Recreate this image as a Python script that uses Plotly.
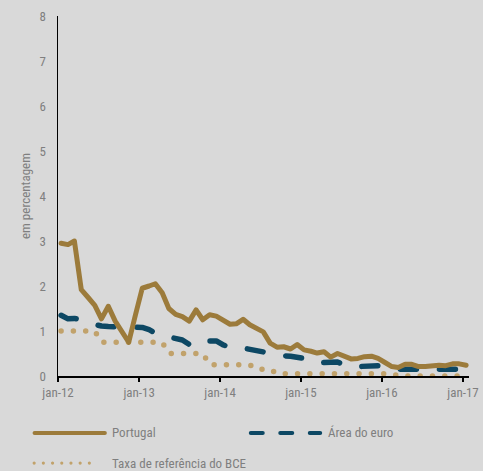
import plotly.graph_objects as go
import pandas as pd

# Monthly observations, jan-12 .. jan-17 (plotted mid-month)
months = pd.date_range("2012-01-01", periods=61, freq="MS") + pd.Timedelta(days=14)

portugal = [2.95, 2.92, 3.00, 1.92, 1.75, 1.57, 1.27, 1.55, 1.22, 1.00, 0.75, 1.35,
            1.95, 2.00, 2.05, 1.85, 1.50, 1.37, 1.32, 1.22, 1.47, 1.25, 1.36, 1.33,
            1.25, 1.15, 1.16, 1.26, 1.14, 1.07, 0.98, 0.73, 0.64, 0.65, 0.60, 0.70,
            0.58, 0.55, 0.51, 0.54, 0.42, 0.50, 0.43, 0.38, 0.39, 0.43, 0.44, 0.39,
            0.30, 0.21, 0.19, 0.26, 0.26, 0.21, 0.21, 0.23, 0.24, 0.23, 0.27, 0.27, 0.24]

area_euro = [1.35, 1.27, 1.28, 1.25, 1.18, 1.13, 1.11, 1.10, 1.10, 1.10, 1.10, 1.10,
             1.08, 1.03, 0.95, 0.90, 0.86, 0.84, 0.80, 0.70, 0.80, 0.78, 0.78, 0.78,
             0.69, 0.64, 0.65, 0.62, 0.60, 0.58, 0.53, 0.49, 0.47, 0.45, 0.44, 0.43,
             0.39, 0.33, 0.29, 0.30, 0.31, 0.31, 0.25, 0.20, 0.21, 0.22, 0.22, 0.23,
             0.22, 0.18, 0.15, 0.15, 0.15, 0.15, 0.14, 0.13, 0.12, 0.12, 0.12, 0.12, 0.15]

taxa_bce = [1.00] * 6 + [0.75] * 10 + [0.50] * 6 + [0.25] * 7 + [0.15] * 3 + [0.05] * 18 + [0.00] * 11

tick_dates = ["2012-01-01", "2013-01-01", "2014-01-01", "2015-01-01", "2016-01-01", "2017-01-01"]
tick_labels = ["jan-12", "jan-13", "jan-14", "jan-15", "jan-16", "jan-17"]
y_ticks = [0, 1, 2, 3, 4, 5, 6, 7, 8]

series_names = ["Portugal", "Área do euro", "Taxa de referência do BCE"]

C_PT = "#9c7b3b"
C_EA = "#0d4864"
C_BCE = "#c1a26b"
GREY = "#7f7f7f"
BG = "#d9d9d9"
FONT = "Liberation Sans Narrow, Arial Narrow, Roboto Condensed, Liberation Sans, sans-serif"

fig = go.Figure()
fig.add_trace(go.Scatter(x=months, y=taxa_bce, mode="lines", name=series_names[2],
                         line=dict(color=C_BCE, width=5.5, dash="0px,12.3px"),
                         showlegend=False, hoverinfo="skip"))
fig.add_trace(go.Scatter(x=months, y=area_euro, mode="lines", name=series_names[1],
                         line=dict(color=C_EA, width=5.5, dash="16px,23px"),
                         showlegend=False, hoverinfo="skip"))
fig.add_trace(go.Scatter(x=months, y=portugal, mode="lines", name=series_names[0],
                         line=dict(color=C_PT, width=5),
                         showlegend=False, hoverinfo="skip"))

# Manual legend (paper coordinates)
leg = [
    (series_names[0], C_PT, None, -0.057, 0.114, -0.158, 0.126),
    (series_names[1], C_EA, "12px,17.5px", 0.469, 0.638, -0.158, 0.652),
    (series_names[2], C_BCE, "0px,9.2px", -0.058, 0.097, -0.242, 0.126),
]
for name, col, dash, x0, x1, yy, xt in leg:
    line = dict(color=col, width=4 if dash != "0px,9.2px" else 3.2)
    if dash:
        line["dash"] = dash
    fig.add_shape(type="line", xref="paper", yref="paper", x0=x0, x1=x1, y0=yy, y1=yy, line=line)
    fig.add_annotation(xref="paper", yref="paper", x=xt, y=yy, text=name, showarrow=False,
                       xanchor="left", yanchor="middle", font=dict(family=FONT, size=13, color=GREY))

fig.update_layout(
    width=483, height=471,
    margin=dict(l=58, r=14, t=16, b=95, autoexpand=False),
    paper_bgcolor=BG, plot_bgcolor=BG,
    font=dict(family=FONT, size=12, color=GREY),
    showlegend=False,
)
fig.update_xaxes(
    type="date", range=["2012-01-01", "2017-01-28"], automargin=False,
    tickvals=tick_dates, ticktext=tick_labels,
    showgrid=False, zeroline=False,
    showline=True, linecolor="black", linewidth=1.5,
    ticks="outside", ticklen=4, tickcolor="black", tickwidth=1.5,
    tickfont=dict(family=FONT, size=13, color=GREY),
)
fig.update_yaxes(
    range=[0, 8], tickvals=y_ticks, automargin=False,
    showgrid=False, zeroline=False,
    showline=True, linecolor="black", linewidth=1.5,
    ticks="", ticklabelstandoff=8,
    tickfont=dict(family=FONT, size=13, color=GREY),
    title=dict(text="em percentagem", standoff=6, font=dict(family=FONT, size=13, color=GREY)),
)

post = """
document.body.style.margin = '0';
document.body.style.padding = '0';
document.body.style.background = '#d9d9d9';
var gd = document.getElementById('{plot_id}');
function fixCaps(){
  gd.querySelectorAll('.scatterlayer .js-line, .shapelayer path').forEach(function(p){
    p.style.strokeLinecap = 'round'; p.style.strokeLinejoin = 'round';
  });
}
fixCaps();
gd.on('plotly_afterplot', fixCaps);
"""
fig.write_html("out.html", post_script=post, config={"displayModeBar": False, "staticPlot": True})
